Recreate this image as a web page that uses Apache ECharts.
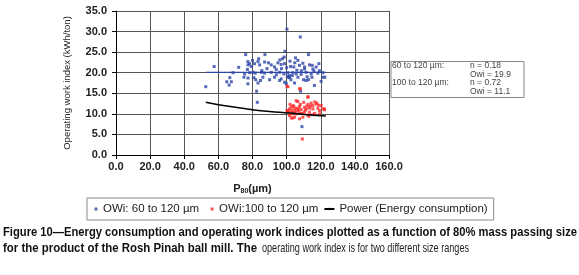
<!DOCTYPE html>
<html>
<head>
<meta charset="utf-8">
<script src="https://cdn.jsdelivr.net/npm/echarts@6/dist/echarts.min.js"></script>
<style>
  html, body { margin: 0; padding: 0; background: #fff; }
  #chart { width: 579px; height: 275px; }
</style>
</head>
<body>
<div id="chart"></div>
<script>
// ---- data ----
// OWi, 60 to 120 µm  [P80, OWi]
const owiWide = [
  [52.6, 16.6], [57.5, 21.5], [64.9, 17.8], [66.3, 17.0], [66.7, 18.8], [67.6, 17.8],
  [68.6, 20.0], [71.9, 21.3], [75.0, 18.9], [75.4, 19.7], [76.0, 24.4], [77.0, 20.8],
  [77.3, 22.7], [77.3, 17.3], [77.4, 21.9], [77.4, 18.7], [78.3, 22.2], [78.3, 20.0],
  [79.3, 21.5], [80.0, 23.0], [80.3, 20.1], [80.8, 18.8], [81.2, 22.2], [81.6, 19.9],
  [81.9, 18.3], [82.4, 15.5], [82.8, 12.8], [83.2, 22.7], [83.2, 17.5], [83.6, 23.4],
  [84.2, 21.9], [84.7, 18.1], [85.2, 20.1], [85.5, 20.5], [86.1, 18.9], [87.1, 22.6],
  [87.1, 19.9], [87.3, 24.4], [88.5, 21.0], [89.4, 22.4], [90.0, 18.3], [91.0, 21.9],
  [91.0, 20.1], [92.9, 21.4], [92.9, 18.9], [93.9, 20.8], [94.0, 19.5], [94.9, 22.4],
  [95.9, 20.1], [95.9, 18.1], [96.0, 23.1], [96.8, 22.0], [96.8, 18.5], [97.0, 21.0],
  [97.6, 23.4], [98.4, 19.7], [98.6, 23.8], [98.8, 22.2], [98.8, 17.7], [99.0, 25.2],
  [99.8, 17.3], [100.0, 21.2], [100.2, 30.6], [100.4, 19.1], [100.7, 20.0], [101.2, 18.8],
  [101.7, 19.3], [101.7, 18.9], [102.0, 22.8], [102.3, 21.5], [102.5, 18.3], [103.3, 19.3],
  [103.6, 20.0], [104.2, 21.4], [104.6, 17.5], [104.8, 22.4], [105.2, 23.6], [105.6, 19.7],
  [106.0, 20.6], [106.6, 23.0], [106.6, 18.9], [107.5, 21.8], [108.0, 28.7], [108.2, 15.5],
  [108.5, 19.6], [108.6, 20.5], [109.0, 6.9], [109.5, 22.3], [109.9, 18.3], [110.5, 21.4],
  [110.5, 20.9], [111.4, 20.1], [111.4, 18.1], [112.0, 19.0], [112.8, 24.4], [112.8, 18.3],
  [113.4, 21.9], [114.4, 19.7], [114.8, 18.9], [115.0, 21.8], [115.4, 20.9], [116.0, 20.4],
  [116.3, 16.9], [117.3, 21.4], [118.3, 19.9], [118.9, 22.2], [119.2, 20.5], [120.2, 17.9],
  [121.2, 20.0], [121.2, 18.9], [122.4, 18.9]
];
// OWi, 100 to 120 µm  [P80, OWi]
const owiNarrow = [
  [100.2, 16.7], [100.8, 16.6], [107.6, 16.1], [108.0, 16.1], [112.5, 14.2], [112.5, 14.0],
  [105.6, 13.2], [106.6, 13.0], [114.4, 12.6], [115.4, 12.0], [117.3, 12.4], [117.7, 12.6],
  [112.5, 12.3], [110.5, 11.6], [107.6, 11.8], [103.7, 12.0], [102.7, 11.6], [101.7, 11.2],
  [104.7, 11.2], [100.8, 10.8], [103.7, 10.4], [106.6, 10.8], [108.6, 11.0], [111.5, 11.2],
  [113.4, 11.4], [115.4, 11.2], [118.3, 11.4], [121.2, 11.2], [122.2, 11.0], [101.4, 10.4],
  [102.7, 10.0], [105.6, 10.0], [107.6, 10.2], [110.5, 10.4], [113.4, 10.4], [116.4, 10.1],
  [101.7, 9.6], [104.7, 9.2], [109.5, 9.2], [103.7, 9.0], [112.5, 9.7], [115.4, 9.8],
  [119.3, 10.0], [100.2, 10.8], [102.7, 9.0], [107.6, 8.8], [113.0, 9.4], [119.2, 10.8],
  [122.2, 11.2], [104.2, 11.8], [106.0, 11.4], [108.0, 12.3], [110.0, 12.8], [111.0, 10.9],
  [114.0, 11.9], [116.5, 12.9], [118.8, 12.1], [120.3, 12.0], [102.0, 12.3], [103.0, 10.8],
  [105.0, 10.6], [107.0, 11.1], [109.0, 10.1], [112.0, 11.9], [109.2, 3.9]
];
// power trend lines
const wideFit = [[52.6, 20.1], [123.0, 20.1]];
const energyLine = [
  [52.6, 12.8], [60, 12.2], [70, 11.6], [80, 11.0], [90, 10.6], [101.8, 10.2], [112, 9.8], [123, 9.5]
];

const seriesNames = ['OWi: 60 to 120 µm', 'OWi:100 to 120 µm', 'Power (Energy consumption)'];
const noteRows = [
  ['60 to 120 µm:', 'n = 0.18'],
  ['', 'Owi = 19.9'],
  ['100 to 120 µm:', 'n = 0.72'],
  ['', 'Owi = 11.1']
];
const captionLine1 = 'Figure 10\u2014Energy consumption and operating work indices plotted as a function of 80% mass passing size';
const captionLine2a = 'for the product of the Rosh Pinah ball mill. The';
const captionLine2b = 'operating work index is for two different size ranges';

// ---- chart ----
const FONT = '"Liberation Sans", Arial, sans-serif';
const blue = '#2d46a6';
const red = '#ff2b2b';
// small square sitting near the right of a 10x3 legend icon box
const squareIcon = 'path://M0,0L0,0M6.5,0h3v3h-3zM10,3L10,3';

const ctx = document.createElement('canvas').getContext('2d');
function fitScale(text, font, target) {
  ctx.font = font;
  return target / ctx.measureText(text).width;
}

const capBold = 'bold 13px ' + FONT;
const capReg = '13px ' + FONT;

const noteGraphics = [];
noteRows.forEach((row, i) => {
  const y = 66 + i * 8.4;
  if (row[0]) noteGraphics.push({ type: 'text', x: 392, y: y, style: { text: row[0], font: '8.5px ' + FONT, fill: '#444', verticalAlign: 'middle' } });
  noteGraphics.push({ type: 'text', x: 470, y: y, style: { text: row[1], font: '8.5px ' + FONT, fill: '#444', verticalAlign: 'middle' } });
});

const chart = echarts.init(document.getElementById('chart'));
chart.setOption({
  animation: false,
  backgroundColor: '#fff',
  textStyle: { fontFamily: FONT },
  grid: { left: 116, right: 190, top: 11, bottom: 120 },
  xAxis: {
    type: 'value', min: 0, max: 160, interval: 20,
    axisLine: { lineStyle: { color: '#000', width: 1 } },
    axisTick: { show: true, length: 4, lineStyle: { color: '#000' } },
    splitLine: { show: true, lineStyle: { color: '#555', width: 1 } },
    axisLabel: { fontWeight: 'bold', fontSize: 11, color: '#222', margin: 6, formatter: v => v.toFixed(1) },
    name: '{n|P}{s|80}{n|(µm)}',
    nameLocation: 'middle', nameGap: 27,
    nameTextStyle: {
      rich: {
        n: { fontWeight: 'bold', fontSize: 11, color: '#222', fontFamily: FONT },
        s: { fontWeight: 'bold', fontSize: 7, color: '#222', fontFamily: FONT, padding: [6, 0, 0, 0] }
      }
    }
  },
  yAxis: {
    type: 'value', min: 0, max: 35, interval: 5,
    axisLine: { show: true, lineStyle: { color: '#000', width: 1 } },
    axisTick: { show: true, length: 4, lineStyle: { color: '#000' } },
    splitLine: { show: true, lineStyle: { color: '#555', width: 1 } },
    axisLabel: { fontWeight: 'bold', fontSize: 11, color: '#222', margin: 9, formatter: v => v.toFixed(1) },
    name: 'Operating work index (kWh/ton)',
    nameLocation: 'middle', nameGap: 44,
    nameTextStyle: { fontSize: 9.5, color: '#222' }
  },
  legend: {
    data: [
      { name: seriesNames[0], icon: squareIcon },
      { name: seriesNames[1], icon: squareIcon },
      { name: seriesNames[2] }
    ],
    left: 87, top: 198,
    itemWidth: 10, itemHeight: 3, itemGap: 5,
    borderColor: '#8a8a8a', borderWidth: 1,
    padding: [5, 6, 5, 1],
    textStyle: { fontSize: 11.5, color: '#222' }
  },
  series: [
    { name: seriesNames[0], type: 'scatter', symbol: 'rect', symbolSize: 3, itemStyle: { color: blue }, data: owiWide },
    { name: seriesNames[1], type: 'scatter', symbol: 'rect', symbolSize: 3, itemStyle: { color: red }, data: owiNarrow },
    { name: seriesNames[2], type: 'line', smooth: true, showSymbol: false, symbol: 'none', lineStyle: { color: '#000', width: 1.5 }, itemStyle: { color: '#000' }, data: energyLine },
    { name: 'fit60', type: 'line', showSymbol: false, symbol: 'none', lineStyle: { color: blue, width: 1.2 }, data: wideFit }
  ],
  graphic: [
    { type: 'rect', shape: { x: 391, y: 61.5, width: 133, height: 36 }, style: { fill: '#fff', stroke: '#888', lineWidth: 1 } },
    ...noteGraphics,
    { type: 'text', x: 3, y: 232, scaleX: fitScale(captionLine1, capBold, 574), style: { text: captionLine1, font: capBold, fill: '#111', verticalAlign: 'middle' } },
    { type: 'text', x: 3, y: 248, scaleX: fitScale(captionLine2a, capBold, 254), style: { text: captionLine2a, font: capBold, fill: '#111', verticalAlign: 'middle' } },
    { type: 'text', x: 262, y: 248, scaleX: fitScale(captionLine2b, capReg, 207), style: { text: captionLine2b, font: capReg, fill: '#222', verticalAlign: 'middle' } }
  ]
});
</script>
</body>
</html>
